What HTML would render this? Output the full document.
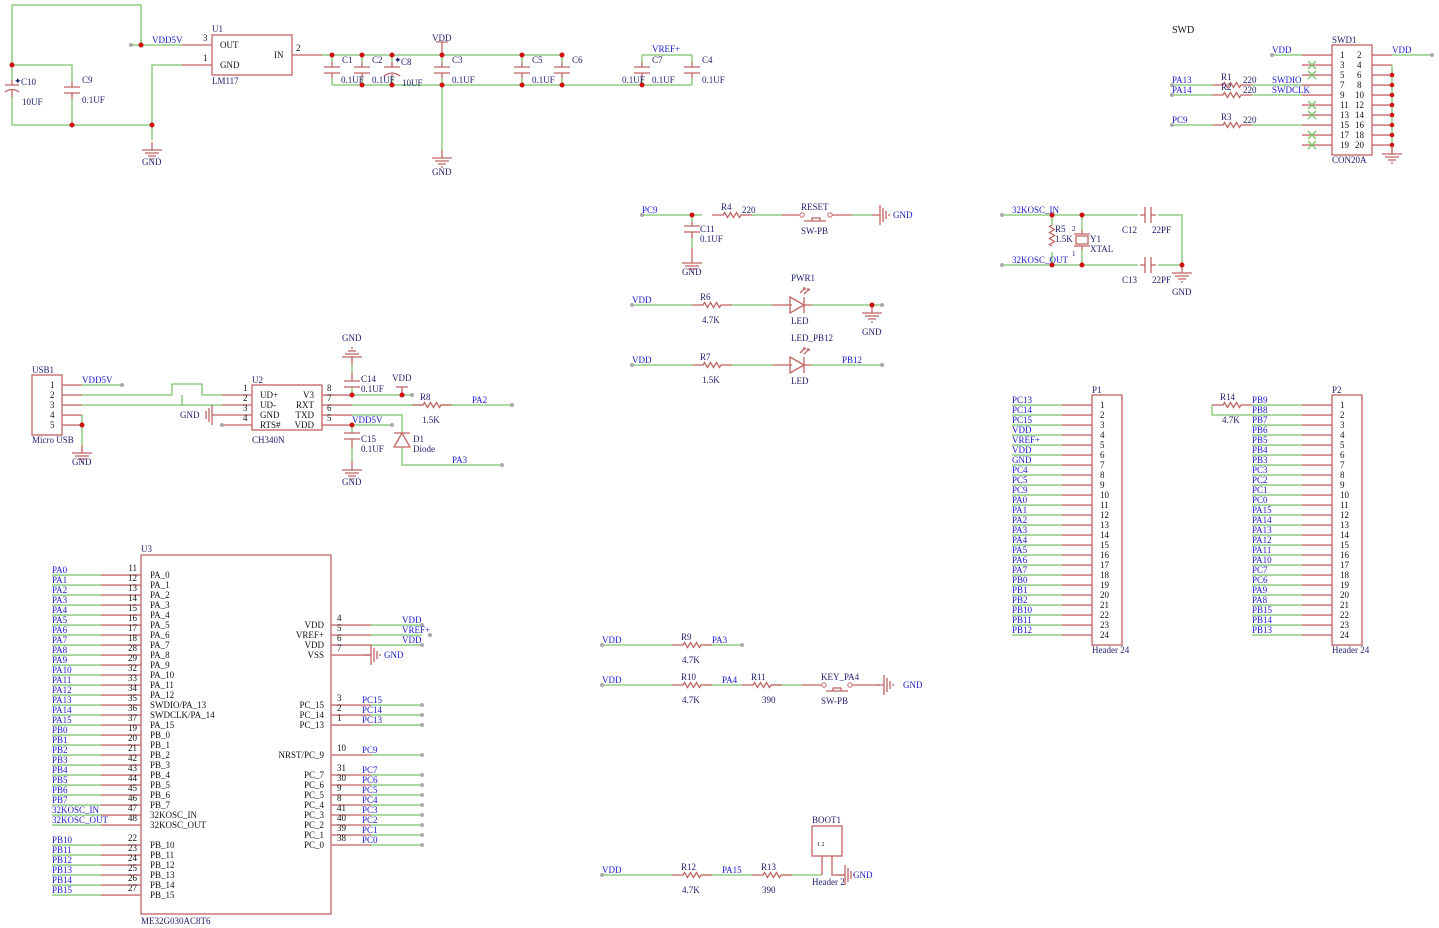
<!DOCTYPE html>
<html><head><meta charset="utf-8"><style>
html,body{margin:0;padding:0;background:#fff;}
svg{display:block;font-family:"Liberation Serif",serif;font-size:9px;}
.g{stroke:#7cc46c;stroke-width:1.3;fill:none}
.r{stroke:#c06464;stroke-width:1.3;fill:none}
.b{fill:#1a1acc}
.d{fill:#202070}
.k{fill:#111}
.dot{fill:#d01010}
.e{fill:#aaa}
</style></head><body>
<svg width="1439" height="928" viewBox="0 0 1439 928" xmlns="http://www.w3.org/2000/svg">
<defs>
<pattern id="pg" patternUnits="userSpaceOnUse" width="10" height="10"><rect x="0" y="4.4" width="10" height="1.3" fill="#7cc46c"/></pattern>
<pattern id="pr" patternUnits="userSpaceOnUse" width="10" height="10"><rect x="0" y="4.4" width="10" height="1.3" fill="#c06464"/></pattern>
<g id="res"><path class="r" d="M-20,0H-9l1.5,-2.5l3,5l3,-5l3,5l3,-5l3,5l1.5,-2.5H20"/></g>
<g id="capv"><path class="g" d="M0,-15V-8M0,8V15"/><path class="r" d="M0,-8V-3M0,3V8M-8,-3H8M-8,3H8"/></g>
<g id="capp"><path class="g" d="M0,-15V-8M0,8V15"/><path class="r" d="M0,-8V-3M0,4V8M-8,-3H8M-8,6Q0,0 8,6"/></g>
<g id="caph"><path class="r" d="M-8,0H-3M3,0H8M-3,-8V8M3,-8V8"/></g>
<g id="gnd"><path class="r" d="M0,0V8M-10,8H10M-7,11H7M-4,14H4M-1,17H1"/></g>
<g id="gndr"><path class="r" d="M0,0H8M8,-10V10M11,-7V7M14,-4V4M17,-1V1"/></g>
<g id="led"><path class="r" d="M-8,-8L6,0L-8,8Z M6,-8V8 M2,-12l5,-5M6,-11l5,-5"/><path class="r" d="M5,-17l2,0l0,2M9,-16l2,0l0,2"/></g>
</defs>

<!-- ===== Top-left power ===== -->
<path class="g" d="M131,45H182M141,45V5H12V80M12,97V125H152M12,65H72V82M72,98V125M152,125V65H182M152,125V140"/>
<path class="r" d="M182,45H212M182,65H212M12,80V85M5,85H19M5,92Q12,87 19,92M12,90V97M72,82V87M64,87H80M64,93H80M72,93V98"/>
<rect x="212" y="35" width="80" height="40" class="r"/>
<use href="#gnd" x="152" y="142"/>
<circle class="e" cx="131" cy="45" r="2"/>
<circle class="dot" cx="141" cy="45" r="2.5"/><circle class="dot" cx="12" cy="65" r="2.5"/><circle class="dot" cx="72" cy="125" r="2.5"/><circle class="dot" cx="152" cy="125" r="2.5"/>
<text class="b" x="152" y="43">VDD5V</text><text class="k" x="203" y="41">3</text><text class="k" x="203" y="61">1</text>
<text class="d" x="212" y="32">U1</text><text class="k" x="220" y="48">OUT</text><text class="k" x="220" y="68">GND</text><text class="k" x="274" y="58">IN</text><text class="d" x="212" y="84">LM117</text>
<text class="d" x="14" y="84">✦</text><text class="d" x="21" y="85">C10</text><text class="d" x="22" y="105">10UF</text>
<text class="d" x="82" y="83">C9</text><text class="d" x="82" y="103">0.1UF</text><text class="d" x="142" y="165">GND</text>

<path class="r" d="M292,55H322"/><text class="k" x="296" y="51">2</text>
<path class="g" d="M322,55H562M642,55H692M332,85H692M442,85V150"/>
<use href="#capv" x="332" y="70"/><use href="#capv" x="362" y="70"/><use href="#capp" x="392" y="70"/><use href="#capv" x="442" y="70"/>
<use href="#capv" x="522" y="70"/><use href="#capv" x="562" y="70"/><use href="#capv" x="642" y="70"/><use href="#capv" x="692" y="70"/>
<path class="r" d="M442,42V55M436,42H448"/><use href="#gnd" x="442" y="150"/>
<g fill="#d01010"><circle cx="332" cy="55" r="2.5"/><circle cx="362" cy="55" r="2.5"/><circle cx="392" cy="55" r="2.5"/><circle cx="442" cy="55" r="2.5"/><circle cx="522" cy="55" r="2.5"/><circle cx="562" cy="55" r="2.5"/><circle cx="362" cy="85" r="2.5"/><circle cx="392" cy="85" r="2.5"/><circle cx="442" cy="85" r="2.5"/><circle cx="522" cy="85" r="2.5"/><circle cx="562" cy="85" r="2.5"/><circle cx="642" cy="85" r="2.5"/></g>
<g class="d"><text x="432" y="41">VDD</text><text x="432" y="175">GND</text>
<text x="342" y="63">C1</text><text x="341" y="83">0.1UF</text><text x="372" y="63">C2</text><text x="372" y="83">0.1UF</text><text x="401" y="65">C8</text><text x="402" y="86">10UF</text>
<text x="452" y="63">C3</text><text x="452" y="83">0.1UF</text><text x="532" y="63">C5</text><text x="532" y="83">0.1UF</text><text x="572" y="63">C6</text>
<text x="622" y="83">0.1UF</text><text x="652" y="63">C7</text><text x="652" y="83">0.1UF</text><text x="702" y="63">C4</text><text x="702" y="83">0.1UF</text></g>
<text class="d" x="394" y="63">✦</text>
<text class="b" x="652" y="52">VREF+</text>

<!-- ===== SWD ===== -->
<text class="k" x="1172" y="33" style="font-size:10px">SWD</text>
<rect x="1332" y="45" width="40" height="110" class="r"/>
<rect x="1302" y="50" width="30" height="100" fill="url(#pr)"/>
<rect x="1372" y="50" width="20" height="100" fill="url(#pr)"/>
<path class="g" d="M1272,55H1302M1392,55H1432M1392,65V155M1172,85H1212M1252,85H1302M1172,95H1212M1252,95H1302M1172,125H1212M1252,125H1302"/>
<use href="#res" x="1232" y="85"/><use href="#res" x="1232" y="95"/><use href="#res" x="1232" y="125"/>
<path class="g" d="M1308,61l8,8M1316,61l-8,8M1308,71l8,8M1316,71l-8,8M1308,101l8,8M1316,101l-8,8M1308,111l8,8M1316,111l-8,8M1308,131l8,8M1316,131l-8,8M1308,141l8,8M1316,141l-8,8"/>
<g fill="#d01010"><circle cx="1392" cy="75" r="2.3"/><circle cx="1392" cy="85" r="2.3"/><circle cx="1392" cy="95" r="2.3"/><circle cx="1392" cy="105" r="2.3"/><circle cx="1392" cy="115" r="2.3"/><circle cx="1392" cy="125" r="2.3"/><circle cx="1392" cy="135" r="2.3"/><circle cx="1392" cy="145" r="2.3"/></g>
<g fill="#aaa"><circle cx="1272" cy="55" r="2"/><circle cx="1432" cy="55" r="2"/><circle cx="1172" cy="85" r="2"/><circle cx="1172" cy="95" r="2"/><circle cx="1172" cy="125" r="2"/></g>
<use href="#gnd" x="1392" y="146"/>
<text class="k" x="1340" y="58"><tspan x="1340">1</tspan><tspan x="1340" dy="10">3</tspan><tspan x="1340" dy="10">5</tspan><tspan x="1340" dy="10">7</tspan><tspan x="1340" dy="10">9</tspan><tspan x="1340" dy="10">11</tspan><tspan x="1340" dy="10">13</tspan><tspan x="1340" dy="10">15</tspan><tspan x="1340" dy="10">17</tspan><tspan x="1340" dy="10">19</tspan></text>
<text class="k" x="1356" y="58"><tspan x="1357">2</tspan><tspan x="1357" dy="10">4</tspan><tspan x="1357" dy="10">6</tspan><tspan x="1357" dy="10">8</tspan><tspan x="1355" dy="10">10</tspan><tspan x="1355" dy="10">12</tspan><tspan x="1355" dy="10">14</tspan><tspan x="1355" dy="10">16</tspan><tspan x="1355" dy="10">18</tspan><tspan x="1355" dy="10">20</tspan></text>
<text class="d" x="1332" y="43">SWD1</text><text class="d" x="1332" y="163">CON20A</text>
<g class="b"><text x="1272" y="53">VDD</text><text x="1392" y="53">VDD</text><text x="1172" y="83">PA13</text><text x="1172" y="93">PA14</text><text x="1172" y="123">PC9</text><text x="1272" y="83">SWDIO</text><text x="1272" y="93">SWDCLK</text></g>
<g class="d"><text x="1221" y="80">R1</text><text x="1221" y="90">R2</text><text x="1221" y="120">R3</text><text x="1243" y="83">220</text><text x="1243" y="93">220</text><text x="1243" y="123">220</text></g>

<!-- ===== Reset / LEDs ===== -->
<path class="g" d="M642,215H702M752,215H782M852,215H872M692,215V222M692,238V248M632,305H692M730,305H772M812,305H882M632,365H692M730,365H772M812,365H882"/>
<use href="#res" x="732" y="215"/>
<path class="r" d="M782,215H799M830,215H852M804,221H826M812,221v-3h8v3M684,226H700M684,232H700M692,222V226M692,232V238M692,248V255"/>
<circle cx="802" cy="215" r="2.2" fill="#fff" stroke="#c06464"/><circle cx="830" cy="215" r="2.2" fill="#fff" stroke="#c06464"/>
<use href="#gndr" x="872" y="215"/><use href="#gnd" x="692" y="255"/>
<use href="#res" x="712" y="305"/><use href="#res" x="712" y="365"/>
<path class="r" d="M772,305H792M804,305H812M772,365H792M804,365H812"/>
<use href="#led" x="798" y="305"/><use href="#led" x="798" y="365"/>
<use href="#gnd" x="872" y="305"/><circle class="dot" cx="872" cy="305" r="2.5"/>
<g fill="#aaa"><circle cx="642" cy="215" r="2"/><circle cx="632" cy="305" r="2"/><circle cx="882" cy="305" r="2"/><circle cx="632" cy="365" r="2"/><circle cx="882" cy="365" r="2"/></g>
<circle class="dot" cx="692" cy="215" r="2.5"/>
<g class="b"><text x="642" y="213">PC9</text><text x="632" y="303">VDD</text><text x="632" y="363">VDD</text><text x="842" y="363">PB12</text><text x="893" y="218">GND</text></g>
<g class="d"><text x="721" y="210">R4</text><text x="742" y="213">220</text><text x="801" y="210">RESET</text><text x="801" y="234">SW-PB</text><text x="700" y="232">C11</text><text x="700" y="242">0.1UF</text><text x="682" y="275">GND</text>
<text x="791" y="281">PWR1</text><text x="700" y="300">R6</text><text x="702" y="323">4.7K</text><text x="791" y="324">LED</text><text x="862" y="335">GND</text>
<text x="791" y="341">LED_PB12</text><text x="700" y="360">R7</text><text x="702" y="383">1.5K</text><text x="791" y="384">LED</text></g>

<!-- ===== Crystal ===== -->
<path class="g" d="M1002,215H1138M1158,215H1182V265M1002,265H1138M1158,265H1182M1082,215V230M1082,250V265M1052,215V225M1052,252V265"/>
<use href="#caph" x="1148" y="215"/><use href="#caph" x="1148" y="265"/>
<path class="r" d="M1052,225l-2.5,1.5l5,3l-5,3l5,3l-5,3l5,3l-5,3l2.5,1.5M1082,230V234M1082,246V250M1074,234H1090M1074,246H1090M1076,236h12v8h-12z"/>
<use href="#gnd" x="1182" y="265"/>
<g fill="#d01010"><circle cx="1052" cy="215" r="2.5"/><circle cx="1082" cy="215" r="2.5"/><circle cx="1052" cy="265" r="2.5"/><circle cx="1082" cy="265" r="2.5"/><circle cx="1182" cy="265" r="2.5"/></g>
<g fill="#aaa"><circle cx="1002" cy="215" r="2"/><circle cx="1002" cy="265" r="2"/></g>
<g class="b"><text x="1012" y="213">32KOSC_IN</text><text x="1012" y="263">32KOSC_OUT</text></g>
<g class="d"><text x="1055" y="232">R5</text><text x="1055" y="242">1.5K</text><text x="1090" y="242">Y1</text><text x="1090" y="252">XTAL</text><text x="1122" y="233">C12</text><text x="1152" y="233">22PF</text><text x="1122" y="283">C13</text><text x="1152" y="283">22PF</text><text x="1172" y="295">GND</text><text x="1072" y="231" style="font-size:7px">2</text><text x="1072" y="256" style="font-size:7px">1</text></g>

<!-- ===== USB / CH340 ===== -->
<rect x="32" y="375" width="30" height="60" class="r"/>
<rect x="62" y="380" width="20" height="50" fill="url(#pr)"/>
<path class="g" d="M82,385H122M82,395H172V384H202V395H222M82,405H222M182,405V395M82,415V445"/>
<path class="r" d="M222,395H252M222,405H252M222,415H252M222,425H252"/>
<circle class="dot" cx="82" cy="425" r="2.5"/><use href="#gnd" x="82" y="445"/>
<path class="r" d="M222,415H212M212,405V425M209,408V422M206,411V419"/>
<circle cx="122" cy="385" r="2" fill="#aaa"/><circle cx="222" cy="425" r="2" fill="#aaa"/>
<rect x="252" y="385" width="70" height="45" class="r"/>
<rect x="322" y="390" width="30" height="40" fill="url(#pr)"/>
<path class="g" d="M352,395H412M352,405H422M440,405H512M352,415H402V433M402,447V465H502M352,425H392M352,395V387M352,425V433M352,447V462M352,373V365"/>
<use href="#res" x="432" y="405"/>
<path class="r" d="M344,381H360M344,387H360M352,381V373M344,433H360M344,439H360M352,439V447M402,387V395M396,387H408M394,433H410M402,433L394,447H410Z"/>
<use href="#gnd" x="352" y="462"/>
<path class="r" d="M352,365V357M342,357H362M345,354H359M348,351H356M351,348H353"/>
<g fill="#d01010"><circle cx="352" cy="395" r="2.5"/><circle cx="402" cy="395" r="2.5"/><circle cx="352" cy="425" r="2.5"/></g>
<g fill="#aaa"><circle cx="412" cy="395" r="2"/><circle cx="512" cy="405" r="2"/><circle cx="392" cy="425" r="2"/><circle cx="502" cy="465" r="2"/></g>
<text class="k" x="50" y="388"><tspan x="50">1</tspan><tspan x="50" dy="10">2</tspan><tspan x="50" dy="10">3</tspan><tspan x="50" dy="10">4</tspan><tspan x="50" dy="10">5</tspan></text>
<text class="k" x="243" y="391"><tspan x="243">1</tspan><tspan x="243" dy="10">2</tspan><tspan x="243" dy="10">3</tspan><tspan x="243" dy="10">4</tspan></text>
<text class="k" x="327" y="391"><tspan x="327">8</tspan><tspan x="327" dy="10">7</tspan><tspan x="327" dy="10">6</tspan><tspan x="327" dy="10">5</tspan></text>
<text class="k" x="260" y="398"><tspan x="260">UD+</tspan><tspan x="260" dy="10">UD-</tspan><tspan x="260" dy="10">GND</tspan><tspan x="260" dy="10">RTS#</tspan></text>
<text class="k" x="314" y="398" text-anchor="end"><tspan x="314">V3</tspan><tspan x="314" dy="10">RXT</tspan><tspan x="314" dy="10">TXD</tspan><tspan x="314" dy="10">VDD</tspan></text>
<g class="d"><text x="32" y="373">USB1</text><text x="32" y="443">Micro USB</text><text x="72" y="465">GND</text><text x="252" y="383">U2</text><text x="252" y="443">CH340N</text>
<text x="180" y="418">GND</text><text x="342" y="341">GND</text><text x="361" y="382">C14</text><text x="361" y="392">0.1UF</text><text x="392" y="381">VDD</text>
<text x="420" y="400">R8</text><text x="422" y="423">1.5K</text><text x="361" y="442">C15</text><text x="361" y="452">0.1UF</text><text x="342" y="485">GND</text><text x="413" y="442">D1</text><text x="413" y="452">Diode</text></g>
<g class="b"><text x="82" y="383">VDD5V</text><text x="352" y="423">VDD5V</text><text x="472" y="403">PA2</text><text x="452" y="463">PA3</text></g>

<!-- ===== U3 ===== -->
<rect x="141" y="555" width="190" height="359" class="r"/>
<rect x="52" y="570" width="49" height="260" fill="url(#pg)"/><rect x="101" y="570" width="40" height="260" fill="url(#pr)"/>
<rect x="52" y="840" width="49" height="60" fill="url(#pg)"/><rect x="101" y="840" width="40" height="60" fill="url(#pr)"/>
<text class="d" x="141" y="552">U3</text><text class="d" x="141" y="924">ME32G030AC8T6</text>
<text class="b"><tspan x="52" y="573">PA0</tspan><tspan x="52" dy="10">PA1</tspan><tspan x="52" dy="10">PA2</tspan><tspan x="52" dy="10">PA3</tspan><tspan x="52" dy="10">PA4</tspan><tspan x="52" dy="10">PA5</tspan><tspan x="52" dy="10">PA6</tspan><tspan x="52" dy="10">PA7</tspan><tspan x="52" dy="10">PA8</tspan><tspan x="52" dy="10">PA9</tspan><tspan x="52" dy="10">PA10</tspan><tspan x="52" dy="10">PA11</tspan><tspan x="52" dy="10">PA12</tspan><tspan x="52" dy="10">PA13</tspan><tspan x="52" dy="10">PA14</tspan><tspan x="52" dy="10">PA15</tspan><tspan x="52" dy="10">PB0</tspan><tspan x="52" dy="10">PB1</tspan><tspan x="52" dy="10">PB2</tspan><tspan x="52" dy="10">PB3</tspan><tspan x="52" dy="10">PB4</tspan><tspan x="52" dy="10">PB5</tspan><tspan x="52" dy="10">PB6</tspan><tspan x="52" dy="10">PB7</tspan><tspan x="52" dy="10">32KOSC_IN</tspan><tspan x="52" dy="10">32KOSC_OUT</tspan><tspan x="52" dy="20">PB10</tspan><tspan x="52" dy="10">PB11</tspan><tspan x="52" dy="10">PB12</tspan><tspan x="52" dy="10">PB13</tspan><tspan x="52" dy="10">PB14</tspan><tspan x="52" dy="10">PB15</tspan></text>
<text class="k" text-anchor="end"><tspan x="137" y="571">11</tspan><tspan x="137" dy="10">12</tspan><tspan x="137" dy="10">13</tspan><tspan x="137" dy="10">14</tspan><tspan x="137" dy="10">15</tspan><tspan x="137" dy="10">16</tspan><tspan x="137" dy="10">17</tspan><tspan x="137" dy="10">18</tspan><tspan x="137" dy="10">28</tspan><tspan x="137" dy="10">29</tspan><tspan x="137" dy="10">32</tspan><tspan x="137" dy="10">33</tspan><tspan x="137" dy="10">34</tspan><tspan x="137" dy="10">35</tspan><tspan x="137" dy="10">36</tspan><tspan x="137" dy="10">37</tspan><tspan x="137" dy="10">19</tspan><tspan x="137" dy="10">20</tspan><tspan x="137" dy="10">21</tspan><tspan x="137" dy="10">42</tspan><tspan x="137" dy="10">43</tspan><tspan x="137" dy="10">44</tspan><tspan x="137" dy="10">45</tspan><tspan x="137" dy="10">46</tspan><tspan x="137" dy="10">47</tspan><tspan x="137" dy="10">48</tspan><tspan x="137" dy="20">22</tspan><tspan x="137" dy="10">23</tspan><tspan x="137" dy="10">24</tspan><tspan x="137" dy="10">25</tspan><tspan x="137" dy="10">26</tspan><tspan x="137" dy="10">27</tspan></text>
<text class="k"><tspan x="150" y="578">PA_0</tspan><tspan x="150" dy="10">PA_1</tspan><tspan x="150" dy="10">PA_2</tspan><tspan x="150" dy="10">PA_3</tspan><tspan x="150" dy="10">PA_4</tspan><tspan x="150" dy="10">PA_5</tspan><tspan x="150" dy="10">PA_6</tspan><tspan x="150" dy="10">PA_7</tspan><tspan x="150" dy="10">PA_8</tspan><tspan x="150" dy="10">PA_9</tspan><tspan x="150" dy="10">PA_10</tspan><tspan x="150" dy="10">PA_11</tspan><tspan x="150" dy="10">PA_12</tspan><tspan x="150" dy="10">SWDIO/PA_13</tspan><tspan x="150" dy="10">SWDCLK/PA_14</tspan><tspan x="150" dy="10">PA_15</tspan><tspan x="150" dy="10">PB_0</tspan><tspan x="150" dy="10">PB_1</tspan><tspan x="150" dy="10">PB_2</tspan><tspan x="150" dy="10">PB_3</tspan><tspan x="150" dy="10">PB_4</tspan><tspan x="150" dy="10">PB_5</tspan><tspan x="150" dy="10">PB_6</tspan><tspan x="150" dy="10">PB_7</tspan><tspan x="150" dy="10">32KOSC_IN</tspan><tspan x="150" dy="10">32KOSC_OUT</tspan><tspan x="150" dy="20">PB_10</tspan><tspan x="150" dy="10">PB_11</tspan><tspan x="150" dy="10">PB_12</tspan><tspan x="150" dy="10">PB_13</tspan><tspan x="150" dy="10">PB_14</tspan><tspan x="150" dy="10">PB_15</tspan></text>
<!-- right side -->
<rect x="331" y="620" width="40" height="40" fill="url(#pr)"/><rect x="371" y="620" width="51" height="30" fill="url(#pg)"/>
<rect x="331" y="700" width="40" height="30" fill="url(#pr)"/><rect x="371" y="700" width="51" height="30" fill="url(#pg)"/>
<path class="r" d="M331,755H371M331,775H371M331,785H371M331,795H371M331,805H371M331,815H371M331,825H371M331,835H371M331,845H371"/>
<path class="g" d="M371,755H422M371,775H422M371,785H422M371,795H422M371,805H422M371,815H422M371,825H422M371,835H422M371,845H422"/>
<use href="#gndr" x="363" y="655"/>
<g fill="#aaa"><circle cx="422" cy="625" r="2"/><circle cx="430" cy="635" r="2"/><circle cx="422" cy="645" r="2"/><circle cx="422" cy="705" r="2"/><circle cx="422" cy="715" r="2"/><circle cx="422" cy="725" r="2"/><circle cx="422" cy="755" r="2"/><circle cx="422" cy="775" r="2"/><circle cx="422" cy="785" r="2"/><circle cx="422" cy="795" r="2"/><circle cx="422" cy="805" r="2"/><circle cx="422" cy="815" r="2"/><circle cx="422" cy="825" r="2"/><circle cx="422" cy="835" r="2"/><circle cx="422" cy="845" r="2"/></g>
<text class="k" text-anchor="end"><tspan x="324" y="628">VDD</tspan><tspan x="324" dy="10">VREF+</tspan><tspan x="324" dy="10">VDD</tspan><tspan x="324" dy="10">VSS</tspan><tspan x="324" y="708">PC_15</tspan><tspan x="324" dy="10">PC_14</tspan><tspan x="324" dy="10">PC_13</tspan><tspan x="324" y="758">NRST/PC_9</tspan><tspan x="324" y="778">PC_7</tspan><tspan x="324" dy="10">PC_6</tspan><tspan x="324" dy="10">PC_5</tspan><tspan x="324" dy="10">PC_4</tspan><tspan x="324" dy="10">PC_3</tspan><tspan x="324" dy="10">PC_2</tspan><tspan x="324" dy="10">PC_1</tspan><tspan x="324" dy="10">PC_0</tspan></text>
<text class="k"><tspan x="337" y="621">4</tspan><tspan x="337" dy="10">5</tspan><tspan x="337" dy="10">6</tspan><tspan x="337" dy="10">7</tspan><tspan x="337" y="701">3</tspan><tspan x="337" dy="10">2</tspan><tspan x="337" dy="10">1</tspan><tspan x="337" y="751">10</tspan><tspan x="337" y="771">31</tspan><tspan x="337" dy="10">30</tspan><tspan x="337" dy="10">9</tspan><tspan x="337" dy="10">8</tspan><tspan x="337" dy="10">41</tspan><tspan x="337" dy="10">40</tspan><tspan x="337" dy="10">39</tspan><tspan x="337" dy="10">38</tspan></text>
<text class="b"><tspan x="402" y="623">VDD</tspan><tspan x="402" dy="10">VREF+</tspan><tspan x="402" dy="10">VDD</tspan><tspan x="362" y="703">PC15</tspan><tspan x="362" dy="10">PC14</tspan><tspan x="362" dy="10">PC13</tspan><tspan x="362" y="753">PC9</tspan><tspan x="362" y="773">PC7</tspan><tspan x="362" dy="10">PC6</tspan><tspan x="362" dy="10">PC5</tspan><tspan x="362" dy="10">PC4</tspan><tspan x="362" dy="10">PC3</tspan><tspan x="362" dy="10">PC2</tspan><tspan x="362" dy="10">PC1</tspan><tspan x="362" dy="10">PC0</tspan></text>
<text class="b" x="384" y="658">GND</text>

<!-- ===== Bottom middle ===== -->
<path class="g" d="M602,645H672M702,645H742M602,685H672M702,685H742M772,685H802M602,875H672M702,875H752M782,875H822"/>
<use href="#res" x="692" y="645"/><use href="#res" x="692" y="685"/><use href="#res" x="762" y="685"/><use href="#res" x="692" y="875"/><use href="#res" x="772" y="875"/>
<path class="r" d="M802,685H821M852,685H880M826,691H848M833,691v-3h8v3M822,856V875M832,856V875H845"/>
<circle cx="824" cy="685" r="2.2" fill="#fff" stroke="#c06464"/><circle cx="850" cy="685" r="2.2" fill="#fff" stroke="#c06464"/>
<use href="#gndr" x="876" y="685"/><use href="#gndr" x="837" y="875"/>
<rect x="812" y="826" width="30" height="30" class="r"/>
<g fill="#aaa"><circle cx="602" cy="645" r="2"/><circle cx="742" cy="645" r="2"/><circle cx="602" cy="685" r="2"/><circle cx="602" cy="875" r="2"/></g>
<g class="b"><text x="602" y="643">VDD</text><text x="712" y="643">PA3</text><text x="602" y="683">VDD</text><text x="722" y="683">PA4</text><text x="602" y="873">VDD</text><text x="722" y="873">PA15</text><text x="903" y="688">GND</text><text x="853" y="878">GND</text></g>
<g class="d"><text x="681" y="640">R9</text><text x="682" y="663">4.7K</text><text x="681" y="680">R10</text><text x="682" y="703">4.7K</text><text x="751" y="680">R11</text><text x="762" y="703">390</text>
<text x="821" y="680">KEY_PA4</text><text x="821" y="704">SW-PB</text><text x="681" y="870">R12</text><text x="682" y="893">4.7K</text><text x="761" y="870">R13</text><text x="762" y="893">390</text><text x="812" y="823">BOOT1</text><text x="812" y="885">Header 2</text></g>
<text class="k" style="font-size:6px" x="817" y="846">1 2</text>

<!-- ===== P1 ===== -->
<rect x="1092" y="395" width="30" height="250" class="r"/>
<rect x="1012" y="400" width="50" height="240" fill="url(#pg)"/><rect x="1062" y="400" width="30" height="240" fill="url(#pr)"/>
<text class="d" x="1092" y="393">P1</text><text class="d" x="1092" y="653">Header 24</text>
<text class="b"><tspan x="1012" y="403">PC13</tspan><tspan x="1012" dy="10">PC14</tspan><tspan x="1012" dy="10">PC15</tspan><tspan x="1012" dy="10">VDD</tspan><tspan x="1012" dy="10">VREF+</tspan><tspan x="1012" dy="10">VDD</tspan><tspan x="1012" dy="10">GND</tspan><tspan x="1012" dy="10">PC4</tspan><tspan x="1012" dy="10">PC5</tspan><tspan x="1012" dy="10">PC9</tspan><tspan x="1012" dy="10">PA0</tspan><tspan x="1012" dy="10">PA1</tspan><tspan x="1012" dy="10">PA2</tspan><tspan x="1012" dy="10">PA3</tspan><tspan x="1012" dy="10">PA4</tspan><tspan x="1012" dy="10">PA5</tspan><tspan x="1012" dy="10">PA6</tspan><tspan x="1012" dy="10">PA7</tspan><tspan x="1012" dy="10">PB0</tspan><tspan x="1012" dy="10">PB1</tspan><tspan x="1012" dy="10">PB2</tspan><tspan x="1012" dy="10">PB10</tspan><tspan x="1012" dy="10">PB11</tspan><tspan x="1012" dy="10">PB12</tspan></text>
<text class="k"><tspan x="1100" y="408">1</tspan><tspan x="1100" dy="10">2</tspan><tspan x="1100" dy="10">3</tspan><tspan x="1100" dy="10">4</tspan><tspan x="1100" dy="10">5</tspan><tspan x="1100" dy="10">6</tspan><tspan x="1100" dy="10">7</tspan><tspan x="1100" dy="10">8</tspan><tspan x="1100" dy="10">9</tspan><tspan x="1100" dy="10">10</tspan><tspan x="1100" dy="10">11</tspan><tspan x="1100" dy="10">12</tspan><tspan x="1100" dy="10">13</tspan><tspan x="1100" dy="10">14</tspan><tspan x="1100" dy="10">15</tspan><tspan x="1100" dy="10">16</tspan><tspan x="1100" dy="10">17</tspan><tspan x="1100" dy="10">18</tspan><tspan x="1100" dy="10">19</tspan><tspan x="1100" dy="10">20</tspan><tspan x="1100" dy="10">21</tspan><tspan x="1100" dy="10">22</tspan><tspan x="1100" dy="10">23</tspan><tspan x="1100" dy="10">24</tspan></text>

<!-- ===== P2 ===== -->
<rect x="1332" y="395" width="30" height="250" class="r"/>
<rect x="1252" y="400" width="50" height="240" fill="url(#pg)"/><rect x="1302" y="400" width="30" height="240" fill="url(#pr)"/>
<path class="g" d="M1212,405V415H1252"/>
<use href="#res" x="1232" y="405"/>
<text class="d" x="1332" y="393">P2</text><text class="d" x="1332" y="653">Header 24</text>
<text class="d" x="1220" y="400">R14</text><text class="d" x="1222" y="423">4.7K</text>
<text class="b"><tspan x="1252" y="403">PB9</tspan><tspan x="1252" dy="10">PB8</tspan><tspan x="1252" dy="10">PB7</tspan><tspan x="1252" dy="10">PB6</tspan><tspan x="1252" dy="10">PB5</tspan><tspan x="1252" dy="10">PB4</tspan><tspan x="1252" dy="10">PB3</tspan><tspan x="1252" dy="10">PC3</tspan><tspan x="1252" dy="10">PC2</tspan><tspan x="1252" dy="10">PC1</tspan><tspan x="1252" dy="10">PC0</tspan><tspan x="1252" dy="10">PA15</tspan><tspan x="1252" dy="10">PA14</tspan><tspan x="1252" dy="10">PA13</tspan><tspan x="1252" dy="10">PA12</tspan><tspan x="1252" dy="10">PA11</tspan><tspan x="1252" dy="10">PA10</tspan><tspan x="1252" dy="10">PC7</tspan><tspan x="1252" dy="10">PC6</tspan><tspan x="1252" dy="10">PA9</tspan><tspan x="1252" dy="10">PA8</tspan><tspan x="1252" dy="10">PB15</tspan><tspan x="1252" dy="10">PB14</tspan><tspan x="1252" dy="10">PB13</tspan></text>
<text class="k"><tspan x="1340" y="408">1</tspan><tspan x="1340" dy="10">2</tspan><tspan x="1340" dy="10">3</tspan><tspan x="1340" dy="10">4</tspan><tspan x="1340" dy="10">5</tspan><tspan x="1340" dy="10">6</tspan><tspan x="1340" dy="10">7</tspan><tspan x="1340" dy="10">8</tspan><tspan x="1340" dy="10">9</tspan><tspan x="1340" dy="10">10</tspan><tspan x="1340" dy="10">11</tspan><tspan x="1340" dy="10">12</tspan><tspan x="1340" dy="10">13</tspan><tspan x="1340" dy="10">14</tspan><tspan x="1340" dy="10">15</tspan><tspan x="1340" dy="10">16</tspan><tspan x="1340" dy="10">17</tspan><tspan x="1340" dy="10">18</tspan><tspan x="1340" dy="10">19</tspan><tspan x="1340" dy="10">20</tspan><tspan x="1340" dy="10">21</tspan><tspan x="1340" dy="10">22</tspan><tspan x="1340" dy="10">23</tspan><tspan x="1340" dy="10">24</tspan></text>
</svg>
</body></html>
